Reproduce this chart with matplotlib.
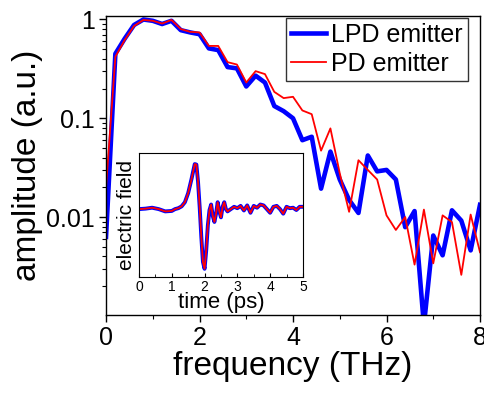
import matplotlib.pyplot as plt
import numpy as np
from matplotlib.ticker import MultipleLocator, LogLocator, NullFormatter

plt.rcParams['font.family'] = ['Liberation Sans', 'DejaVu Sans']

# spectrum, 0.2 THz steps
freq = [0.0, 0.2, 0.4, 0.6, 0.8, 1.0, 1.2, 1.4, 1.6, 1.8, 2.0, 2.2, 2.4, 2.6, 2.8,
        3.0, 3.2, 3.4, 3.6, 3.8, 4.0, 4.2, 4.4, 4.6, 4.8, 5.0, 5.2, 5.4, 5.6, 5.8,
        6.0, 6.2, 6.4, 6.6, 6.8, 7.0, 7.2, 7.4, 7.6, 7.8, 8.0]
lpd = [0.0063, 0.45, 0.64, 0.88, 1.0, 0.97, 0.90, 0.97, 0.78, 0.74, 0.71, 0.51,
       0.49, 0.33, 0.32, 0.21, 0.27, 0.23, 0.133, 0.118, 0.10, 0.060, 0.065,
       0.0194, 0.046, 0.024, 0.0149, 0.011, 0.042, 0.029, 0.030, 0.024, 0.0079,
       0.0115, 0.0008, 0.0065, 0.0041, 0.0117, 0.0092, 0.0046, 0.0133]
pd_ = [0.020, 0.42, 0.62, 0.86, 0.99, 0.97, 0.91, 0.99, 0.80, 0.75, 0.74, 0.54,
       0.54, 0.37, 0.35, 0.23, 0.30, 0.28, 0.185, 0.16, 0.165, 0.12, 0.11,
       0.047, 0.079, 0.0277, 0.0113, 0.0376, 0.030, 0.024, 0.0104, 0.0074, 0.010,
       0.0033, 0.0119, 0.0034, 0.0104, 0.0089, 0.0026, 0.0106, 0.0044]

# time-domain waveform (inset)
t = [0, 0.2, 0.4, 0.6, 0.8, 1.0, 1.1, 1.2, 1.3, 1.4, 1.5, 1.6, 1.7, 1.75, 1.8,
     1.85, 1.9, 1.95, 2.0, 2.05, 2.1, 2.15, 2.2, 2.25, 2.3, 2.35, 2.4, 2.45, 2.5,
     2.55, 2.6, 2.65, 2.7, 2.8, 2.9, 3.0, 3.1, 3.2, 3.3, 3.4, 3.5, 3.6, 3.7, 3.8,
     3.9, 4.0, 4.1, 4.2, 4.3, 4.4, 4.5, 4.6, 4.7, 4.8, 4.9, 5.0]
field = [0, 0.01, 0.03, 0.0, -0.05, -0.04, 0, 0.02, 0.06, 0.15, 0.35, 0.65, 0.98,
         0.97, 0.6, 0.05, -0.6, -1.15, -1.30, -0.9, -0.35, -0.02, 0.1, -0.15,
         -0.28, -0.1, 0.15, -0.05, -0.18, 0.05, 0.15, 0.0, -0.05, 0.0, 0.05, 0.02,
         0.07, -0.03, 0.08, -0.08, 0.07, 0.03, 0.1, 0.08, 0.0, -0.08, 0.05, 0.07,
         0.0, -0.1, 0.05, 0.02, 0.03, -0.02, 0.05, 0.05]

fig = plt.figure(figsize=(4.85, 3.93), dpi=100)
ax = fig.add_axes([0.2186, 0.1985, 0.7711, 0.7608])

ax.plot(freq, lpd, color='#0000ff', lw=3.3, label='LPD emitter')
ax.plot(freq, pd_, color='#ff0000', lw=1.3, label='PD emitter')
ax.set_yscale('log')
ax.set_xlim(0, 8)
ax.set_ylim(0.00102, 1.085)
ax.set_yticks([0.01, 0.1, 1])
ax.set_yticklabels(['0.01', '0.1', '1'])
ax.yaxis.set_minor_locator(LogLocator(base=10, subs=np.arange(2, 10)))
ax.yaxis.set_minor_formatter(NullFormatter())
ax.xaxis.set_major_locator(MultipleLocator(2))
ax.xaxis.set_minor_locator(MultipleLocator(1))
ax.tick_params(which='major', direction='out', length=5, width=1, labelsize=18, pad=3)
ax.tick_params(which='minor', direction='out', length=3, width=0.8)
ax.set_xlabel('frequency (THz)', fontsize=24, labelpad=1)
ax.set_ylabel('amplitude (a.u.)', fontsize=24, labelpad=2)
for s in ax.spines.values():
    s.set_linewidth(1)

leg = ax.legend(loc='upper right', bbox_to_anchor=(0.968, 0.993), fontsize=18,
                frameon=True, fancybox=False, borderaxespad=0, handlelength=1.4,
                handletextpad=0.2, borderpad=0.2, labelspacing=0.2)
leg.get_frame().set_edgecolor('black')
leg.get_frame().set_linewidth(1)

ins = fig.add_axes([0.2866, 0.295, 0.338, 0.3155])
ins.plot(t, field, color='#0000ff', lw=2.8)
ins.plot(t, field, color='#ff0000', lw=1.3)
ins.set_xlim(0, 5)
ins.set_ylim(-1.48, 1.22)
ins.set_yticks([])
ins.xaxis.set_major_locator(MultipleLocator(1))
ins.xaxis.set_minor_locator(MultipleLocator(0.5))
ins.tick_params(which='major', direction='in', length=3, labelsize=10, pad=2)
ins.tick_params(which='minor', direction='in', length=2)
ins.set_xlabel('time (ps)', fontsize=16, labelpad=-1)
ins.set_ylabel('electric field', fontsize=15, labelpad=2)

fig.savefig('out.png', dpi=100)
